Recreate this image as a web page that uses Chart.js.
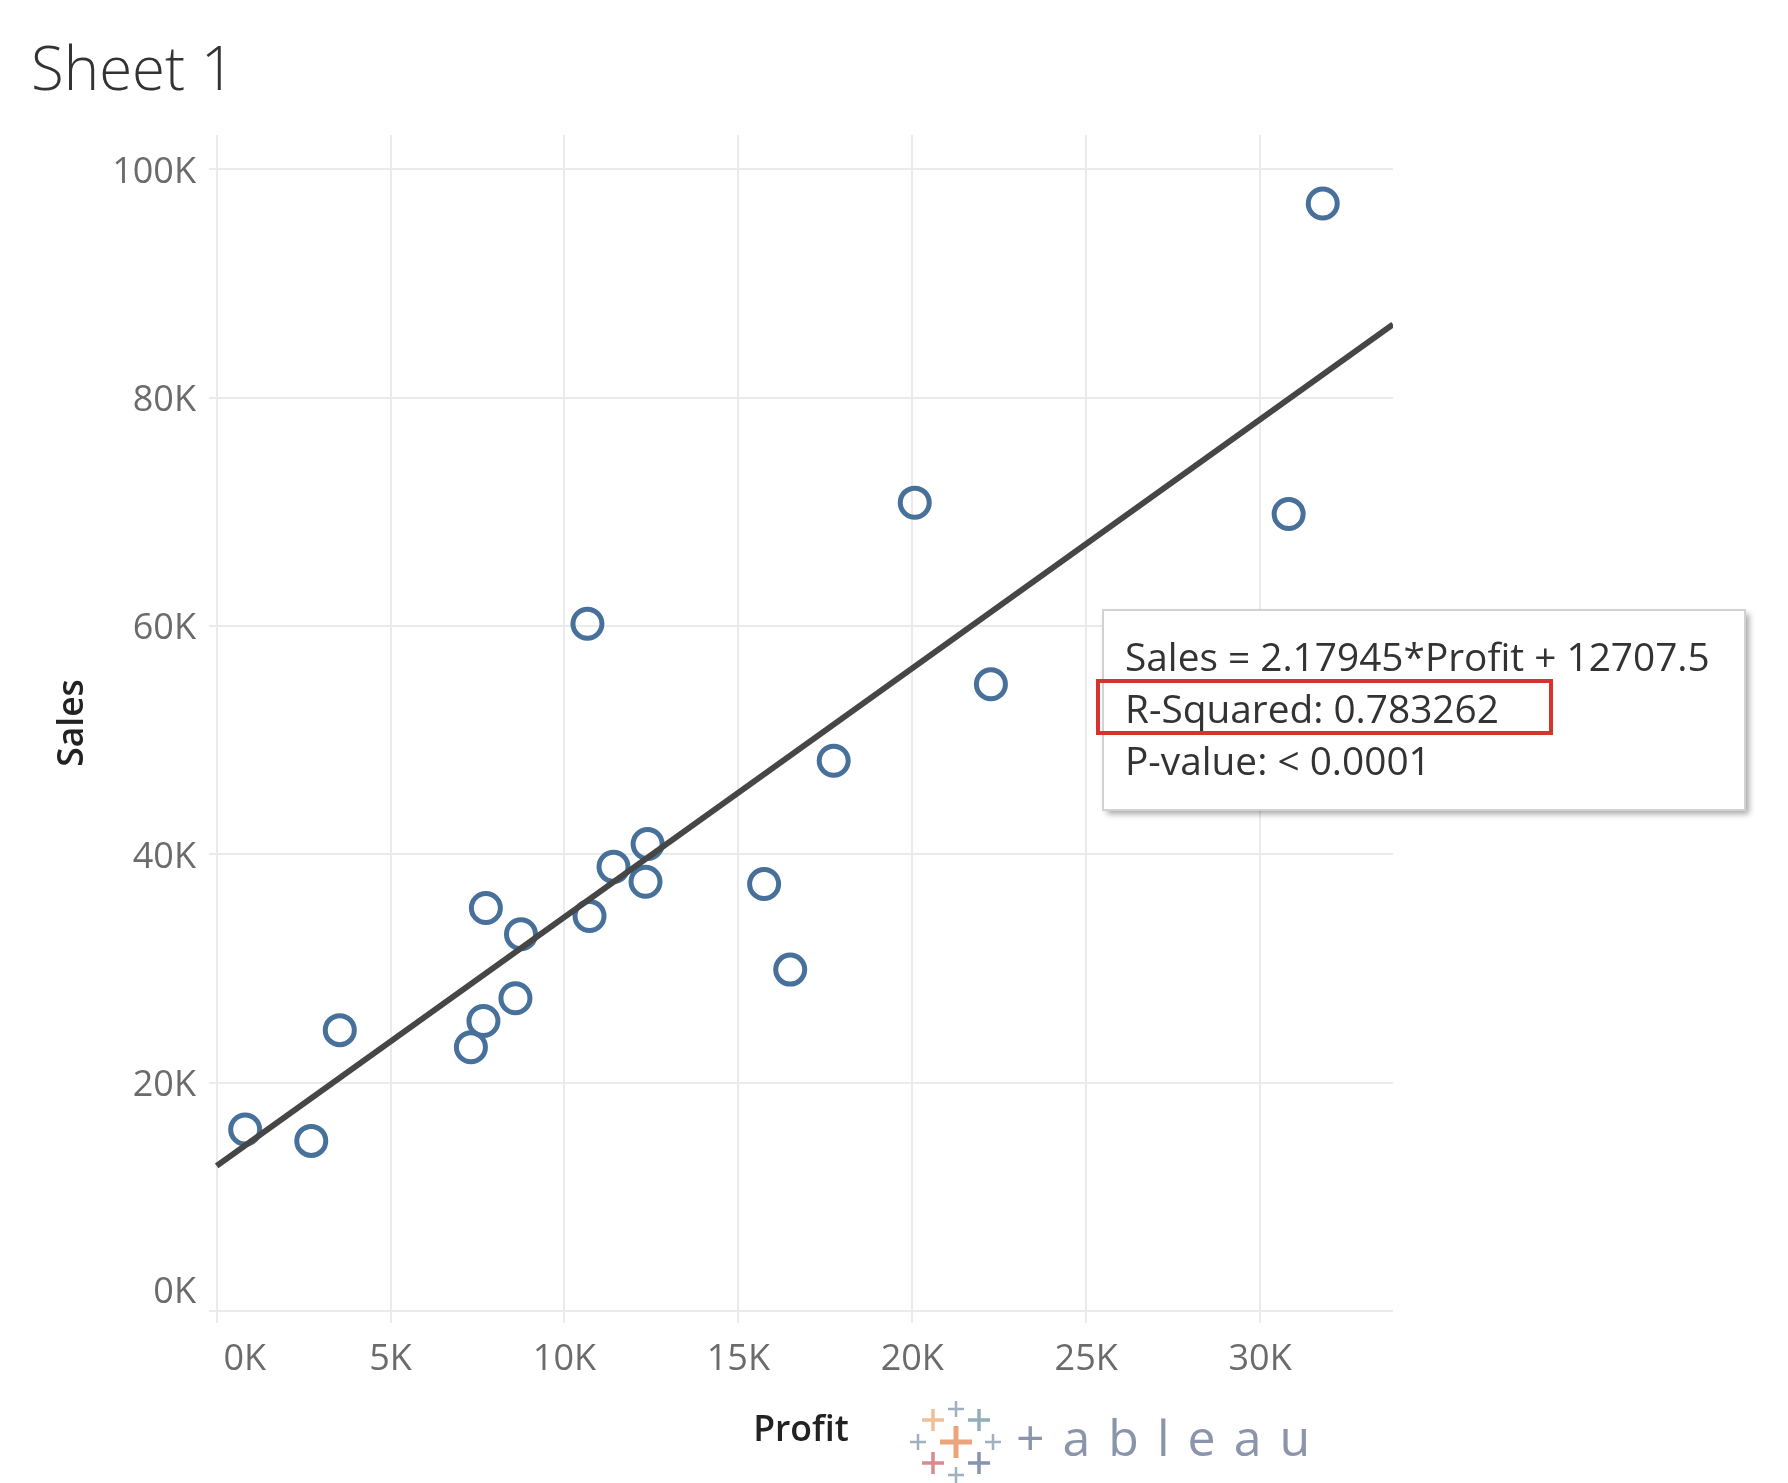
<!DOCTYPE html>
<html lang="en">
  <head>
    <meta charset="UTF-8" />
    <title>Sheet 1</title>
    <style>
      html, body { margin: 0; padding: 0; background: #ffffff; }
    </style>
  </head>
  <script src="https://cdn.jsdelivr.net/npm/chart.js@4.4.1/dist/chart.umd.min.js"></script>
  <body>
    <canvas id="sheet-chart" width="1788" height="1483"></canvas>
    <script>
      // profit / sales pairs
      const profit = [820, 2720, 3540, 7310, 7670, 7740, 8590, 8750, 10660, 10720, 11410, 12330, 12390, 15740, 16490, 17740, 20070, 22260, 30820, 31800];
      const sales = [15900, 14900, 24600, 23100, 25400, 35300, 27400, 33000, 60200, 34600, 38900, 37600, 40900, 37400, 29900, 48200, 70800, 54900, 69800, 97000];

      // trend line model as printed in the box
      const trendSlope = 2.17945;
      const trendIntercept = 12707.5;
      const rSquared = '0.783262';
      const pValue = '< 0.0001';

      const profitTicks = [0, 5000, 10000, 15000, 20000, 25000, 30000];
      const salesTicks = [0, 20000, 40000, 60000, 80000, 100000];
      const profitRange = [-220, 33820];
      const salesRange = [0, 103000];

      const fontFamily = "'Open Sans', 'Noto Sans', sans-serif";
      const markColor = '#47709a';
      const trendColor = '#464646';
      const gridColor = '#ebebeb';

      const points = profit.map((p, i) => ({ x: p, y: sales[i] }));
      const trendPoints = [0, profitRange[1]].map((p) => ({
        x: p,
        y: trendSlope * p + trendIntercept
      }));

      const kLabel = (value) => value / 1000 + 'K';

      const statsBox = {
        id: 'statsBox',
        afterDraw(chart) {
          const ctx = chart.ctx;
          const left = 1103;
          const top = 610;
          const width = 642;
          const height = 200;
          ctx.save();
          ctx.shadowColor = 'rgba(0, 0, 0, 0.35)';
          ctx.shadowBlur = 6;
          ctx.shadowOffsetX = 4;
          ctx.shadowOffsetY = 4;
          ctx.fillStyle = '#ffffff';
          ctx.fillRect(left, top, width, height);
          ctx.shadowColor = 'transparent';
          ctx.strokeStyle = '#d2d2d2';
          ctx.lineWidth = 2;
          ctx.strokeRect(left, top, width, height);

          ctx.fillStyle = '#333333';
          ctx.font = '38.8px ' + fontFamily;
          ctx.textBaseline = 'middle';
          ctx.textAlign = 'left';
          const lines = [
            'Sales = ' + trendSlope + '*Profit + ' + trendIntercept,
            'R-Squared: ' + rSquared,
            'P-value: ' + pValue
          ];
          lines.forEach((line, i) => {
            ctx.fillText(line, left + 22, top + 50 + i * 52);
          });

          ctx.strokeStyle = '#d8322c';
          ctx.lineWidth = 4;
          ctx.strokeRect(1098, 681, 453, 52);
          ctx.restore();
        }
      };

      const tableauLogo = {
        id: 'tableauLogo',
        afterDraw(chart) {
          const ctx = chart.ctx;
          const cx = 956;
          const cy = 1442;
          const crosses = [
            [0, 0, 16, 5, '#eca47a'],
            [0, -33, 8, 2.5, '#9fb0c0'],
            [0, 33, 8, 2.5, '#9fb0c0'],
            [-38, 0, 8, 2.5, '#9fb0c0'],
            [37, 0, 8, 2.5, '#9fb0c0'],
            [-23, -22, 11, 3.5, '#f0bf95'],
            [23, -22, 11, 3.5, '#93aebb'],
            [-23, 21, 11, 3.5, '#d98a8f'],
            [23, 21, 11, 3.5, '#8594b2']
          ];
          ctx.save();
          crosses.forEach(([dx, dy, arm, lw, color]) => {
            ctx.strokeStyle = color;
            ctx.lineWidth = lw;
            ctx.beginPath();
            ctx.moveTo(cx + dx - arm, cy + dy);
            ctx.lineTo(cx + dx + arm, cy + dy);
            ctx.moveTo(cx + dx, cy + dy - arm);
            ctx.lineTo(cx + dx, cy + dy + arm);
            ctx.stroke();
          });
          ctx.fillStyle = '#8a94aa';
          ctx.font = '50px ' + fontFamily;
          ctx.textBaseline = 'middle';
          ctx.textAlign = 'left';
          ctx.letterSpacing = '18px';
          ctx.fillText('+ableau', 1016, cy);
          ctx.restore();
        }
      };

      new Chart(document.getElementById('sheet-chart').getContext('2d'), {
        type: 'scatter',
        data: {
          datasets: [
            {
              type: 'line',
              label: 'Trend',
              data: trendPoints,
              borderColor: trendColor,
              borderWidth: 6,
              pointRadius: 0,
              fill: false,
              order: 0
            },
            {
              label: 'Sales vs Profit',
              data: points,
              pointStyle: 'circle',
              pointRadius: 14.5,
              pointHoverRadius: 14.5,
              pointBorderWidth: 5,
              borderColor: markColor,
              backgroundColor: 'rgba(0, 0, 0, 0)',
              order: 1
            }
          ]
        },
        options: {
          responsive: false,
          animation: false,
          devicePixelRatio: 1,
          layout: {
            padding: { left: 31, right: 395, top: 0, bottom: 0 }
          },
          plugins: {
            legend: { display: false },
            tooltip: { enabled: false },
            title: {
              display: true,
              text: 'Sheet 1',
              align: 'start',
              color: '#333333',
              font: { family: fontFamily, size: 60, weight: 300 },
              padding: { top: 37, bottom: 26 }
            }
          },
          scales: {
            x: {
              type: 'linear',
              position: 'bottom',
              min: profitRange[0],
              max: profitRange[1],
              afterBuildTicks(scale) {
                scale.ticks = profitTicks.map((value) => ({ value }));
              },
              ticks: {
                autoSkip: false,
                maxRotation: 0,
                padding: 15,
                color: '#6b6b6b',
                font: { family: fontFamily, size: 36 },
                callback: (value) => (value === 0 ? '      0K' : kLabel(value))
              },
              grid: {
                color: gridColor,
                lineWidth: 2,
                drawTicks: true,
                tickLength: 12,
                tickColor: gridColor
              },
              border: { display: false },
              title: {
                display: true,
                text: 'Profit',
                color: '#222222',
                font: { family: fontFamily, size: 35.5, weight: 600 },
                padding: { top: 0, bottom: 31 }
              },
              afterFit(scale) {
                scale.height = 172;
              }
            },
            y: {
              type: 'linear',
              min: salesRange[0],
              max: salesRange[1],
              afterBuildTicks(scale) {
                scale.ticks = salesTicks.map((value) => ({ value }));
              },
              ticks: {
                autoSkip: false,
                padding: 13,
                labelOffset: 3,
                color: '#6b6b6b',
                font: { family: fontFamily, size: 36 },
                callback: (value) => (value === 0 ? ['0K', ''] : kLabel(value))
              },
              grid: {
                color: gridColor,
                lineWidth: 2,
                drawTicks: false
              },
              border: { display: false },
              title: {
                display: true,
                text: 'Sales',
                color: '#222222',
                font: { family: fontFamily, size: 35.5, weight: 600 },
                padding: { top: 21, bottom: 0 }
              },
              afterFit(scale) {
                scale.width = 178;
              }
            }
          }
        },
        plugins: [statsBox, tableauLogo]
      });
    </script>
  </body>
</html>
